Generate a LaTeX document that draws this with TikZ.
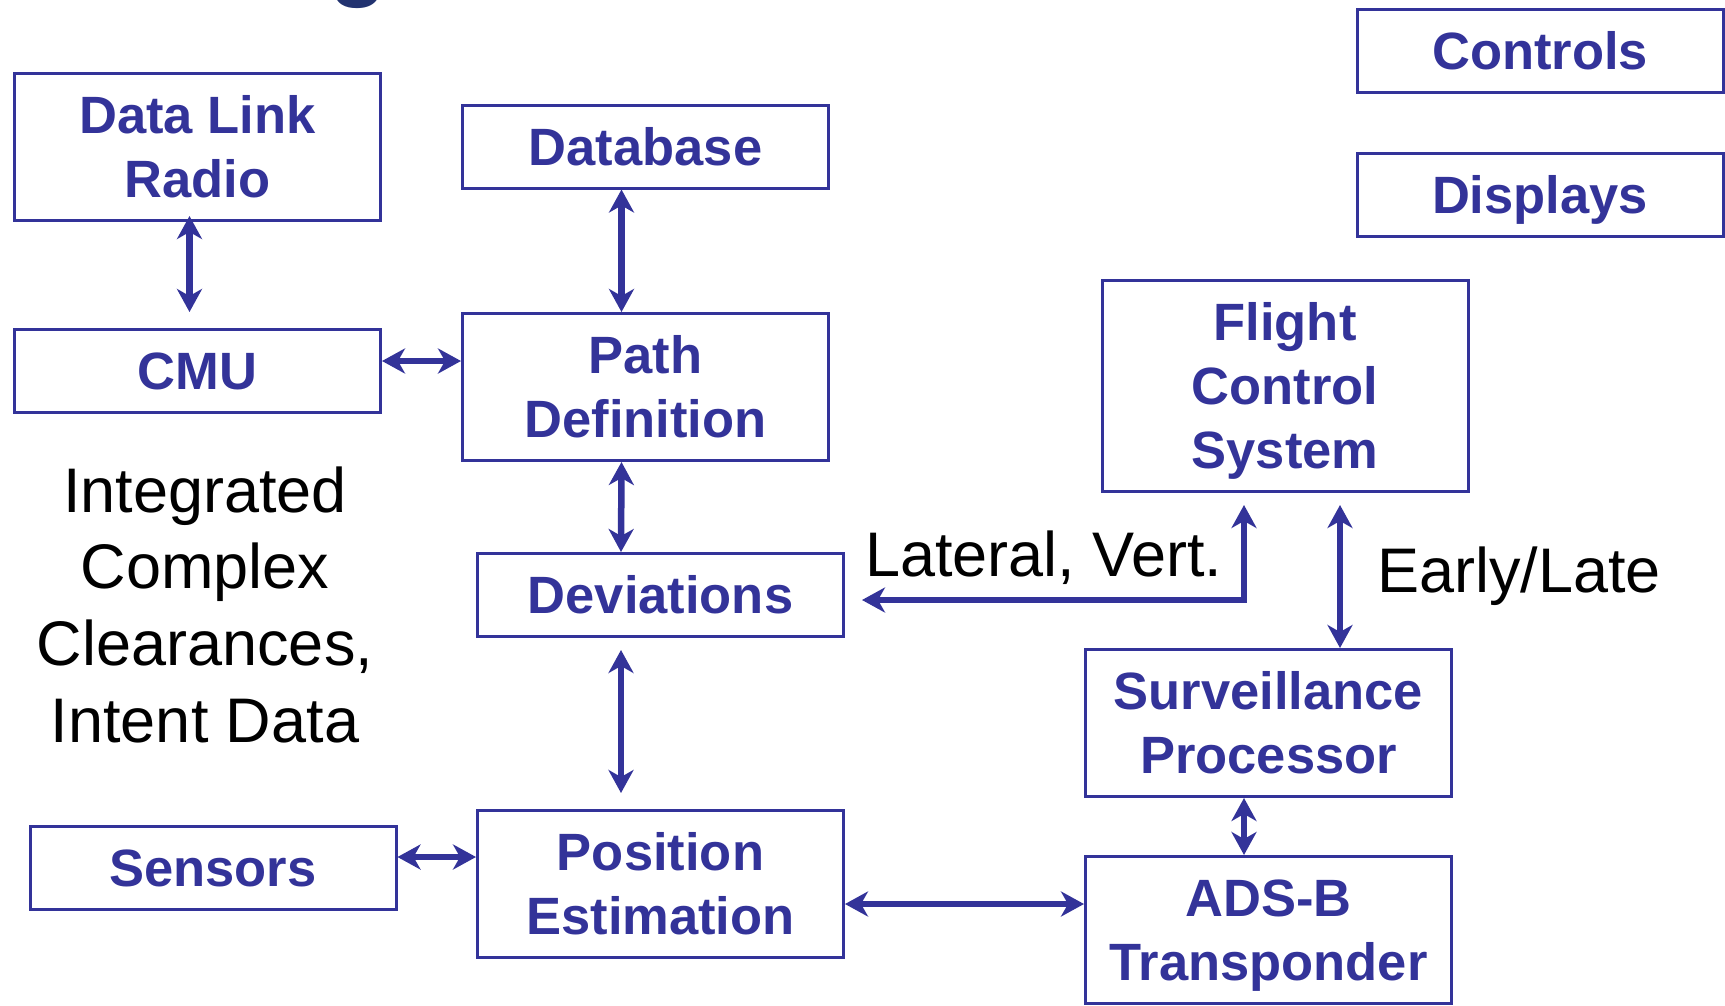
\documentclass[tikz,border=0pt]{standalone}
\usepackage{fontspec}
\setmainfont{Liberation Sans}
\usetikzlibrary{arrows.meta}
\definecolor{boxblue}{RGB}{51,51,153}
\definecolor{titlenavy}{RGB}{34,51,112}
% centred lines stacked in a \vtop, so the baseline is that of the first line
\newcommand\stacklines[1]{\vtop{\halign{\hfil##\hfil\cr#1\crcr}}}

\begin{document}
\begin{tikzpicture}[x=1pt,y=-1pt,
  block/.style={draw=boxblue, line width=3pt, text=boxblue, inner sep=0pt,
    minimum width=366pt, font=\fontsize{52.5}{64}\selectfont\bfseries,
    text height=37.6pt},
  one/.style={block, minimum height=83pt, text depth=0pt},
  two/.style={block, minimum height=147pt, text depth=64pt},
  three/.style={block, minimum height=211pt, text depth=128pt},
  link/.style={draw=boxblue, line width=6.5pt, arrows={Stealth[length=23pt,width=25pt,inset=7pt]-Stealth[length=23pt,width=25pt,inset=7pt]}},
  note/.style={text=black, inner sep=0pt, font=\fontsize{63}{76.7}\selectfont}
]
\useasboundingbox (0,0) rectangle (1725,1005);

% descender of the title running off the top edge
\begin{scope}
  \clip (0,0) rectangle (1725,1005);
  \node[anchor=base, text=titlenavy, inner sep=0pt,
    font=\fontsize{95}{95}\selectfont\bfseries] (titleg) at (359,-12) {g};
\end{scope}

% blocks
\node[two]   (dlr)  at (197.5,147)  {\stacklines{Data Link\cr Radio}};
\node[one]   (db)   at (645.5,146.5) {Database};
\node[one]   (cmu)  at (197.5,371)  {CMU};
\node[two]   (path) at (645.5,387)  {\stacklines{Path\cr Definition}};
\node[one]   (dev)  at (660.5,595)  {Deviations};
\node[one]   (sens) at (213,867.5)  {Sensors};
\node[two]   (pos)  at (660.5,884)  {\stacklines{Position\cr Estimation}};
\node[one]   (ctrl) at (1540,51)    {Controls};
\node[one]   (disp) at (1540,195)   {Displays};
\node[three] (fcs)  at (1285,386)   {\stacklines{Flight\cr Control\cr System}};
\node[two]   (surv) at (1268.5,723) {\stacklines{Surveillance\cr Processor}};
\node[two]   (adsb) at (1268.5,930) {\stacklines{ADS-B\cr Transponder}};

% connectors
\draw[link] ([xshift=-8pt,yshift=6pt]dlr.south) -- ([xshift=-8pt,yshift=16pt]cmu.north);
\draw[link] ([xshift=-24pt]db.south) -- ([xshift=-24pt]path.north);
\draw[link] ([yshift=10pt]cmu.east) -- ([yshift=10pt]cmu.east -| path.west);
\draw[link] ([xshift=-24pt]path.south) -- ([xshift=-39.5pt]dev.north);
\draw[link] ([xshift=-39.5pt,yshift=-12pt]dev.south) -- ([xshift=-39.5pt,yshift=16pt]pos.north);
\draw[link] ([yshift=10.5pt]sens.east) -- ([yshift=10.5pt]sens.east -| pos.west);
\draw[link] ([yshift=-20pt]pos.east) -- ([yshift=-20pt]pos.east -| adsb.west);
\draw[link] ([xshift=-24.5pt]surv.south) -- ([xshift=-24.5pt]adsb.north);
\draw[link] ([xshift=55pt,yshift=-12pt]fcs.south) -- ([xshift=55pt]fcs.south |- surv.north);
\draw[link, line join=miter] ([xshift=-41pt,yshift=-12pt]fcs.south) |- ([xshift=17pt,yshift=-5pt]dev.east);

% free text
\node[note, anchor=base west] (lat) at (865,576) {Lateral, Vert.};
\node[note, anchor=base west] (el) at (1377,592) {Early/Late};
\node[note, anchor=base] (intent) at (205,512)
  {\stacklines{Integrated\cr Complex\cr Clearances,\cr Intent Data}};
\end{tikzpicture}
\end{document}
